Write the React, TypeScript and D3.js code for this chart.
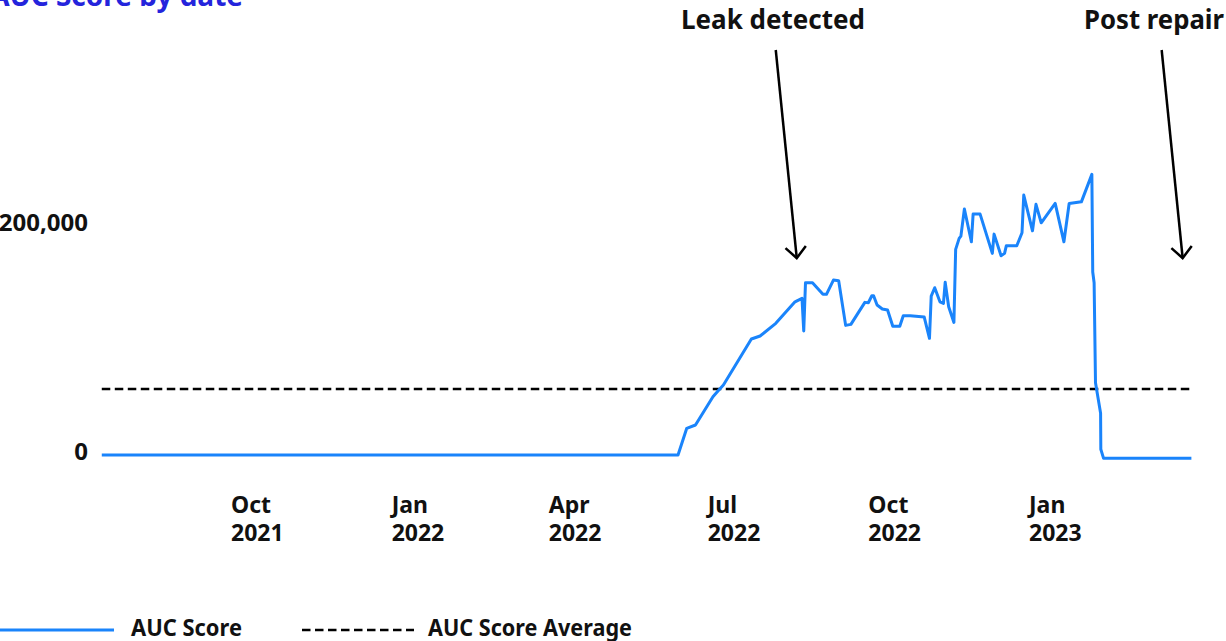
import React from 'react';
import * as d3 from 'd3';

const W = 1226;
const H = 641;
const FONT = '"Noto Sans", "Open Sans", sans-serif';
const BLUE = '#1a84fb';

// AUC score series
const scoreDates = [
  '2021-07-19', '2022-06-14', '2022-06-19', '2022-06-24', '2022-07-04', '2022-07-07', '2022-07-10',
  '2022-07-26', '2022-07-31', '2022-08-09', '2022-08-20', '2022-08-24', '2022-08-25', '2022-08-26',
  '2022-08-30', '2022-09-05', '2022-09-07', '2022-09-11', '2022-09-14', '2022-09-18', '2022-09-21',
  '2022-09-29', '2022-10-01', '2022-10-03', '2022-10-04', '2022-10-06', '2022-10-09', '2022-10-12',
  '2022-10-15', '2022-10-19', '2022-10-21', '2022-10-25', '2022-11-02', '2022-11-05', '2022-11-06',
  '2022-11-08', '2022-11-11', '2022-11-13', '2022-11-14', '2022-11-16', '2022-11-19', '2022-11-20',
  '2022-11-22', '2022-11-23', '2022-11-25', '2022-11-29', '2022-11-30', '2022-12-04', '2022-12-11',
  '2022-12-12', '2022-12-16', '2022-12-18', '2022-12-19', '2022-12-25', '2022-12-28', '2022-12-29',
  '2023-01-03', '2023-01-05', '2023-01-08', '2023-01-16', '2023-01-21', '2023-01-24', '2023-01-31',
  '2023-02-06', '2023-02-06T12:00Z', '2023-02-07T07:00Z', '2023-02-08T02:00Z', '2023-02-11',
  '2023-02-11T03:00Z', '2023-02-12T17:00Z', '2023-04-04',
];
const scoreValues = [
  0, 0, 23300, 26200, 50900, 56100, 61100,
  101300, 103900, 115000, 133800, 136800, 108300, 150400,
  150400, 140300, 140300, 152800, 152200, 113200, 114100,
  133300, 133000, 139100, 139100, 131000, 127500, 126600,
  112400, 112400, 121600, 121600, 120500, 101900, 138800,
  146100, 133800, 132400, 150800, 129500, 115800, 179600,
  189200, 191200, 214800, 186200, 210400, 210400, 176100,
  192900, 174000, 176100, 182700, 182700, 194100, 227000,
  195800, 218900, 202800, 219700, 186200, 219700, 221100,
  245100, 159800, 150400, 63100, 36400,
  5000, -2900, -2900,
];
const averageScore = 57600;

const tickDates = ['2021-10-01', '2022-01-01', '2022-04-01', '2022-07-01', '2022-10-01', '2023-01-01'];
const tickMonths = ['Oct', 'Jan', 'Apr', 'Jul', 'Oct', 'Jan'];
const tickYears = ['2021', '2022', '2022', '2022', '2022', '2023'];
const yTicks = [0, 200000];

const annotationLabels = ['Leak detected', 'Post repair'];
const annotationDates = ['2022-08-21', '2023-03-30'];
const annotationValues = [172000, 172000];

const legendLabels = ['AUC Score', 'AUC Score Average'];

export default function App() {
  const parse = (s: string) => new Date(s.length === 10 ? s + 'T00:00Z' : s);
  const data = scoreDates.map((d, i) => ({ date: parse(d), value: scoreValues[i] }));

  const x = d3.scaleUtc()
    .domain([parse('2021-10-01'), parse('2023-01-01')])
    .range([231, 1029]);
  const y = d3.scaleLinear().domain([0, 200000]).range([455, 226]);

  const line = d3.line<{ date: Date; value: number }>()
    .x(d => x(d.date))
    .y(d => y(d.value));

  const [x0, x1] = d3.extent(data, d => x(d.date)) as [number, number];
  const fmt = d3.format(',');

  // label widths in the reference font, so the narrower face fits
  const annWidth = [184, 140];
  const annCenter = [773, 1154];
  const legWidth = [111, 204];

  return (
    <svg width={W} height={H} style={{ position: 'absolute', left: 0, top: 0, display: 'block' }}
      fontFamily={FONT} fontWeight={700}>
      <rect width={W} height={H} fill="#fff" />

      {/* title, cut by the top edge */}
      <text x={243} y={6} textAnchor="end" fontSize={28} fill="#2424dc">AUC Score by date</text>

      {/* y labels */}
      {yTicks.map(t => (
        <text key={t} x={88} y={y(t) + 5} textAnchor="end" fontSize={24} fill="#111">{fmt(t)}</text>
      ))}

      {/* x labels */}
      {tickDates.map((t, i) => (
        <g key={t}>
          <text x={x(parse(t))} y={513} fontSize={23} fill="#111">{tickMonths[i]}</text>
          <text x={x(parse(t))} y={541} fontSize={23} fill="#111">{tickYears[i]}</text>
        </g>
      ))}

      {/* average */}
      <line x1={x0} x2={x1} y1={y(averageScore)} y2={y(averageScore)}
        stroke="#000" strokeWidth={2.6} strokeDasharray="8.5,4.5" />

      {/* score line */}
      <path d={line(data) || ''} fill="none" stroke={BLUE} strokeWidth={3} strokeLinejoin="round" />

      {/* annotations */}
      {annotationLabels.map((lab, i) => {
        const tx = x(parse(annotationDates[i]));
        const ty = y(annotationValues[i]);
        const sx = tx - 21;
        const sy = 50;
        const ang = Math.atan2(ty - sy, tx - sx);
        const a1 = ang + Math.PI - 0.75;
        const a2 = ang + Math.PI + 0.75;
        const len = 15;
        return (
          <g key={lab}>
            <text x={annCenter[i] - annWidth[i] / 2} y={29} fontSize={26} fill="#111"
              textLength={annWidth[i]} lengthAdjust="spacingAndGlyphs">{lab}</text>
            <line x1={sx} y1={sy} x2={tx} y2={ty} stroke="#000" strokeWidth={2.5} />
            <path d={`M${tx + len * Math.cos(a1)},${ty + len * Math.sin(a1)}L${tx},${ty}L${tx + len * Math.cos(a2)},${ty + len * Math.sin(a2)}`}
              fill="none" stroke="#000" strokeWidth={2.5} />
          </g>
        );
      })}

      {/* legend */}
      <line x1={0} x2={114} y1={630} y2={630} stroke={BLUE} strokeWidth={3} />
      <text x={131} y={636} fontSize={23} fill="#111" textLength={legWidth[0]} lengthAdjust="spacingAndGlyphs">{legendLabels[0]}</text>
      <line x1={302} x2={414} y1={630} y2={630} stroke="#000" strokeWidth={2.6} strokeDasharray="8.5,4.5" />
      <text x={428} y={636} fontSize={23} fill="#111" textLength={legWidth[1]} lengthAdjust="spacingAndGlyphs">{legendLabels[1]}</text>
    </svg>
  );
}
